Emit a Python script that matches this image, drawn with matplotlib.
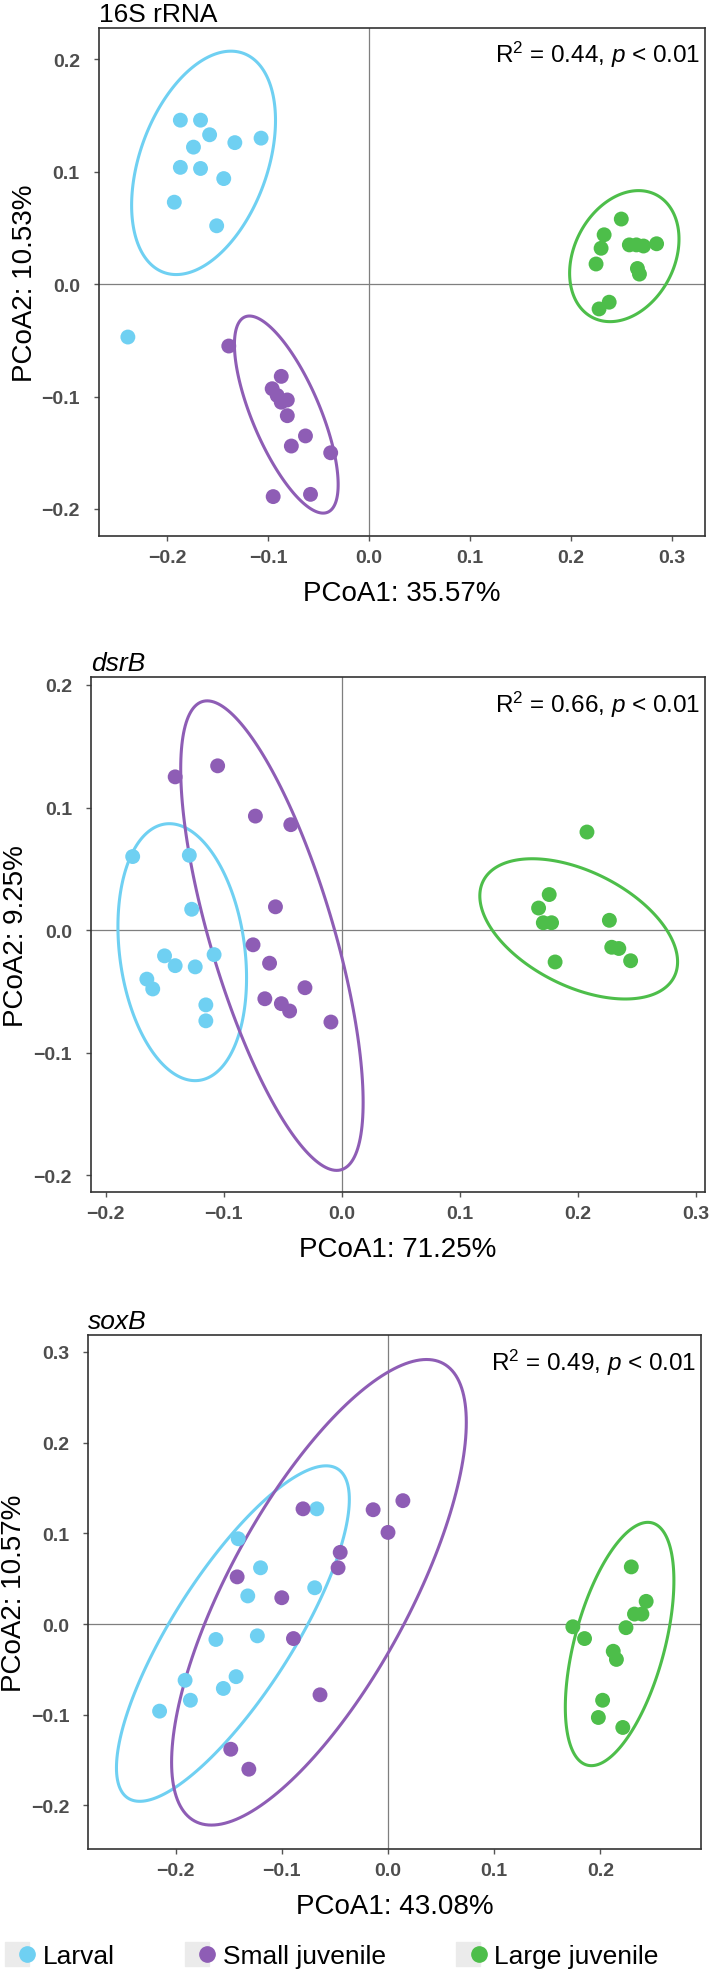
import numpy as np
import matplotlib
matplotlib.use("Agg")
import matplotlib.pyplot as plt
from matplotlib.lines import Line2D
from matplotlib.legend_handler import HandlerTuple

plt.rcParams['font.family'] = ['Liberation Sans', 'DejaVu Sans']
plt.rcParams['mathtext.fontset'] = 'custom'
plt.rcParams['mathtext.rm'] = 'Liberation Sans'
plt.rcParams['mathtext.it'] = 'Liberation Sans:italic'

groups = ['Larval', 'Small juvenile', 'Large juvenile']
colors = ['#6fd0f2', '#8e5db5', '#4dbe4a']

# ---- 16S rRNA ----
rrna_larval_x = [-0.187, -0.167, -0.158, -0.174, -0.133, -0.107, -0.187, -0.167, -0.144, -0.193, -0.151, -0.239]
rrna_larval_y = [0.146, 0.146, 0.133, 0.122, 0.126, 0.130, 0.104, 0.103, 0.094, 0.073, 0.052, -0.047]
rrna_small_x = [-0.139, -0.087, -0.096, -0.091, -0.087, -0.081, -0.081, -0.063, -0.077, -0.038, -0.095, -0.058]
rrna_small_y = [-0.055, -0.082, -0.093, -0.099, -0.105, -0.103, -0.117, -0.135, -0.144, -0.150, -0.189, -0.187]
rrna_large_x = [0.250, 0.233, 0.230, 0.225, 0.258, 0.265, 0.272, 0.285, 0.266, 0.268, 0.238, 0.228]
rrna_large_y = [0.058, 0.044, 0.032, 0.018, 0.035, 0.035, 0.034, 0.036, 0.014, 0.009, -0.016, -0.022]
# ellipses: centre x, centre y, half-width x, half-height y, correlation
rrna_ellipses = [(-0.164, 0.108, 0.0713, 0.0994, 0.38),
                 (-0.082, -0.116, 0.0514, 0.0877, -0.71),
                 (0.253, 0.025, 0.0542, 0.0583, 0.26)]

# ---- dsrB ----
dsrb_larval_x = [-0.177, -0.129, -0.127, -0.150, -0.141, -0.124, -0.108, -0.165, -0.160, -0.115, -0.115]
dsrb_larval_y = [0.060, 0.061, 0.017, -0.021, -0.029, -0.030, -0.020, -0.040, -0.048, -0.061, -0.074]
dsrb_small_x = [-0.141, -0.105, -0.073, -0.043, -0.056, -0.075, -0.061, -0.065, -0.051, -0.044, -0.031, -0.009]
dsrb_small_y = [0.125, 0.134, 0.093, 0.086, 0.019, -0.012, -0.027, -0.056, -0.060, -0.066, -0.047, -0.075]
dsrb_large_x = [0.208, 0.176, 0.167, 0.171, 0.178, 0.227, 0.229, 0.235, 0.245, 0.181]
dsrb_large_y = [0.080, 0.029, 0.018, 0.006, 0.006, 0.008, -0.014, -0.015, -0.025, -0.026]
dsrb_ellipses = [(-0.135, -0.018, 0.0545, 0.1048, -0.20),
                 (-0.059, -0.0045, 0.0773, 0.1915, -0.71),
                 (0.201, 0.001, 0.0838, 0.0572, -0.47)]

# ---- soxB ----
soxb_larval_x = [-0.067, -0.141, -0.120, -0.132, -0.069, -0.162, -0.123, -0.191, -0.143, -0.155, -0.186, -0.215]
soxb_larval_y = [0.127, 0.094, 0.062, 0.031, 0.040, -0.017, -0.013, -0.062, -0.058, -0.071, -0.084, -0.096]
soxb_small_x = [-0.080, -0.014, 0.014, 0.000, -0.045, -0.047, -0.142, -0.100, -0.089, -0.064, -0.148, -0.131]
soxb_small_y = [0.127, 0.126, 0.136, 0.101, 0.079, 0.062, 0.052, 0.029, -0.016, -0.078, -0.138, -0.160]
soxb_large_x = [0.229, 0.243, 0.232, 0.239, 0.174, 0.224, 0.185, 0.212, 0.215, 0.202, 0.198, 0.221]
soxb_large_y = [0.063, 0.025, 0.011, 0.011, -0.003, -0.004, -0.016, -0.030, -0.039, -0.084, -0.103, -0.114]
soxb_ellipses = [(-0.146, -0.0105, 0.1096, 0.1849, 0.80),
                 (-0.065, 0.035, 0.1387, 0.2566, 0.73),
                 (0.218, -0.022, 0.0511, 0.1341, 0.52)]

panels = [
    dict(title='16S rRNA', italic=False, stat='R$^2$ = 0.44, $p$ < 0.01',
         xlab='PCoA1: 35.57%', ylab='PCoA2: 10.53%',
         x=[rrna_larval_x, rrna_small_x, rrna_large_x],
         y=[rrna_larval_y, rrna_small_y, rrna_large_y], ell=rrna_ellipses,
         xlim=(-0.268, 0.333), ylim=(-0.224, 0.228),
         xticks=[-0.2, -0.1, 0.0, 0.1, 0.2, 0.3], yticks=[-0.2, -0.1, 0.0, 0.1, 0.2],
         pos=[0.1391, 0.7280, 0.8553, 0.2573]),
    dict(title='dsrB', italic=True, stat='R$^2$ = 0.66, $p$ < 0.01',
         xlab='PCoA1: 71.25%', ylab='PCoA2: 9.25%',
         x=[dsrb_larval_x, dsrb_small_x, dsrb_large_x],
         y=[dsrb_larval_y, dsrb_small_y, dsrb_large_y], ell=dsrb_ellipses,
         xlim=(-0.2126, 0.308), ylim=(-0.2137, 0.2064),
         xticks=[-0.2, -0.1, 0.0, 0.1, 0.2, 0.3], yticks=[-0.2, -0.1, 0.0, 0.1, 0.2],
         pos=[0.1279, 0.3956, 0.8664, 0.2609]),
    dict(title='soxB', italic=True, stat='R$^2$ = 0.49, $p$ < 0.01',
         xlab='PCoA1: 43.08%', ylab='PCoA2: 10.57%',
         x=[soxb_larval_x, soxb_small_x, soxb_large_x],
         y=[soxb_larval_y, soxb_small_y, soxb_large_y], ell=soxb_ellipses,
         xlim=(-0.2824, 0.2946), ylim=(-0.248, 0.3186),
         xticks=[-0.2, -0.1, 0.0, 0.1, 0.2], yticks=[-0.2, -0.1, 0.0, 0.1, 0.2, 0.3],
         pos=[0.1241, 0.0628, 0.8646, 0.2604]),
]


def ellipse_path(cx, cy, rx, ry, rho):
    t = np.linspace(0, 2 * np.pi, 200, endpoint=False)
    ex = cx + rx * np.cos(t)
    ey = cy + ry * (rho * np.cos(t) + np.sqrt(1 - rho ** 2) * np.sin(t))
    return ex, ey


fig = plt.figure(figsize=(7.09, 19.74), dpi=100)

for p in panels:
    ax = fig.add_axes(p['pos'])
    ax.axhline(0, color='#7f7f7f', lw=0.9, zorder=1)
    ax.axvline(0, color='#7f7f7f', lw=0.9, zorder=1)
    for gx, gy, c, e in zip(p['x'], p['y'], colors, p['ell']):
        ax.scatter(gx, gy, s=115, color=c, edgecolor='none', zorder=3)
        ex, ey = ellipse_path(*e)
        ax.fill(ex, ey, fill=False, edgecolor=c, lw=2.2, zorder=2)
    ax.set_xlim(p['xlim'])
    ax.set_ylim(p['ylim'])
    ax.set_xticks(p['xticks'])
    ax.set_yticks(p['yticks'])
    ax.set_xticklabels(['%.1f' % v if v >= 0 else '\u2212%.1f' % -v for v in p['xticks']])
    ax.set_yticklabels(['%.1f' % v if v >= 0 else '\u2212%.1f' % -v for v in p['yticks']])
    for lab in ax.get_xticklabels() + ax.get_yticklabels():
        lab.set_fontweight('bold')
        lab.set_fontsize(14)
        lab.set_color('#4d4d4d')
    ax.tick_params(axis='both', direction='out', length=3.5, width=1, color='#555555')
    ax.tick_params(axis='y', pad=10)
    ax.tick_params(axis='x', pad=6)
    for sp in ax.spines.values():
        sp.set_linewidth(1.2)
        sp.set_color('#333333')
    ax.set_xlabel(p['xlab'], fontsize=20, labelpad=10)
    ax.set_ylabel(p['ylab'], fontsize=20)
    ax.yaxis.set_label_coords(-0.1, 0.5)
    ax.set_title(p['title'], loc='left', fontsize=19, pad=5,
                 style='italic' if p['italic'] else 'normal')
    ax.text(0.992, 0.933, p['stat'], transform=ax.transAxes, ha='right',
            va='baseline', fontsize=17.5)

handles = []
for c in colors:
    key = Line2D([], [], marker='s', ms=17, color='#ebebeb', ls='')
    dot = Line2D([], [], marker='o', ms=11, color=c, ls='')
    handles.append((key, dot))
fig.legend(handles, groups, loc='center left', bbox_to_anchor=(0.016, 0.0086),
           ncol=3, frameon=False, fontsize=19, handlelength=0.8,
           handletextpad=0.4, columnspacing=2.9, borderpad=0, borderaxespad=0,
           handler_map={tuple: HandlerTuple(ndivide=None)})

fig.savefig('out.png', dpi=100)
